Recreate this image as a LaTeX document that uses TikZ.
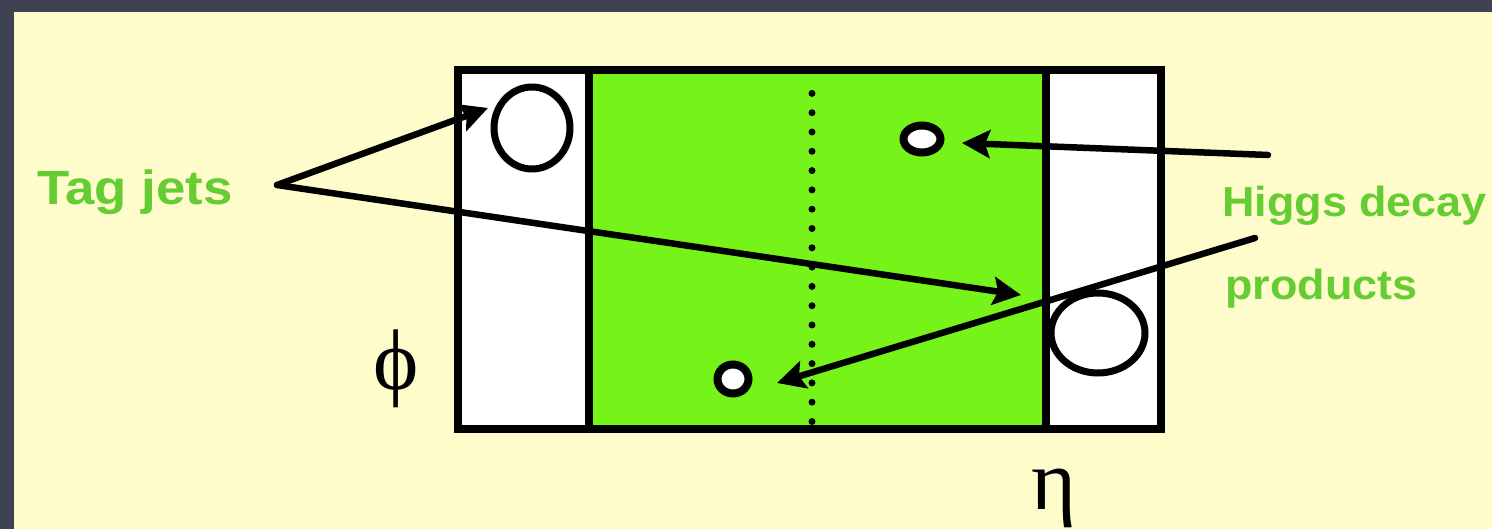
\documentclass[tikz,border=0pt]{standalone}
\usepackage{graphicx}
\usepackage{fontspec}
\setmainfont{Liberation Sans}
\newfontfamily\greekfont{Liberation Serif}
\usetikzlibrary{arrows.meta,shapes.geometric}
\definecolor{slidebg}{HTML}{3F4351}
\definecolor{cream}{HTML}{FEFCCB}
\definecolor{fillgreen}{HTML}{76F318}
\definecolor{textgreen}{HTML}{66CC33}
\begin{document}
\begin{tikzpicture}[x=1pt,y=-1pt,
  arr/.style={line width=6.5pt, line cap=round, -{Stealth[length=28pt,width=28pt,inset=5pt]}},
  jet/.style={ellipse, draw, line width=7pt, fill=white, inner sep=0pt},
  smalljet/.style={ellipse, draw, line width=8pt, fill=white, inner sep=0pt},
  lbl/.style={text=textgreen, anchor=base west, inner sep=0pt},
  greek/.style={font=\greekfont\fontsize{86}{86}\selectfont, anchor=base, inner sep=0pt}]
\useasboundingbox (0,0) rectangle (1492,529);
\fill[slidebg] (0,0) rectangle (1492,529);
\fill[cream] (14,12) rectangle (1492,529);
% detector plane
\fill[white] (458,70) rectangle (589,429);
\fill[fillgreen] (589,70) rectangle (1046,429);
\fill[white] (1046,70) rectangle (1161,429);
\draw[line width=7pt, line cap=round, dash pattern=on 0pt off 19.3pt] (812,93.4) -- (812,423);
\draw[line width=8pt] (589,70) -- (589,429) (1046,70) -- (1046,429);
\draw[line width=8pt] (458,70) rectangle (1161,429);
% jets
\node[jet, minimum width=76pt, minimum height=82pt] (jetA) at (532,128) {};
\node[jet, minimum width=94pt, minimum height=80pt] (jetB) at (1098,333) {};
\node[smalljet, minimum width=37pt, minimum height=27pt] (hA) at (922,139) {};
\node[smalljet, minimum width=31pt, minimum height=29pt] (hB) at (733,379) {};
% labels
\node[lbl, font=\fontsize{48}{48}\selectfont\bfseries] (tag) at (37,205) {\scalebox{1.1}[1]{Tag jets}};
\node[lbl, font=\fontsize{42}{42}\selectfont\bfseries] (higgs) at (1222,217) {\scalebox{1.07}[1]{Higgs decay}};
\node[lbl, font=\fontsize{42}{42}\selectfont\bfseries] (prod) at (1225,300) {\scalebox{1.07}[1]{products}};
\node[greek] (phi) at (396,390) {ϕ};
\node[greek] (eta) at (1054,509) {η};
% arrows
\coordinate (tagsrc) at (277,185);
\coordinate (tipA) at (488,108);
\coordinate (tipB) at (1021,295);
\coordinate (hsrcA) at (1268,155);
\coordinate (tipC) at (962,143);
\coordinate (hsrcB) at (1255,238);
\coordinate (tipD) at (777,383);
\draw[arr] (tagsrc) -- (tipA);
\draw[arr] (tagsrc) -- (tipB);
\draw[arr] (hsrcA) -- (tipC);
\draw[arr] (hsrcB) -- (tipD);
\end{tikzpicture}
\end{document}
